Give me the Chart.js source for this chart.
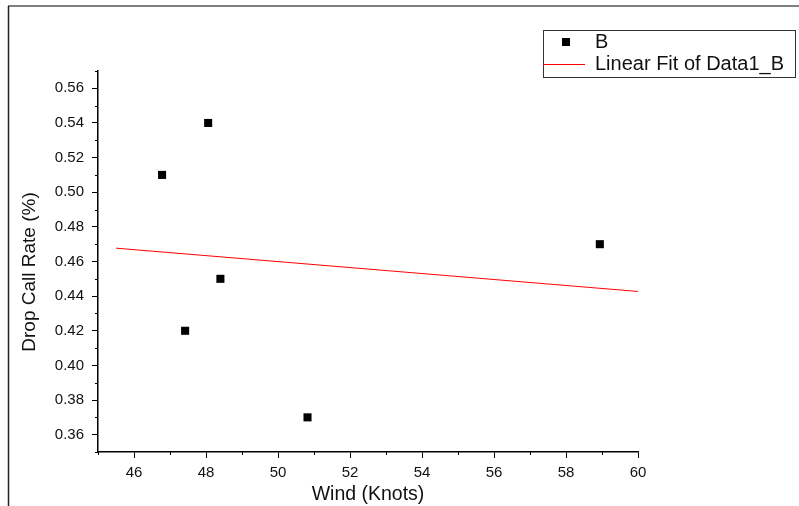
<!DOCTYPE html>
<html>
<head>
<meta charset="utf-8">
<script src="https://cdn.jsdelivr.net/npm/chart.js@4"></script>
<style>
  html, body { margin: 0; padding: 0; background: #fff; }
  #wrap { width: 799px; height: 506px; }
</style>
</head>
<body>
<div id="wrap"><canvas id="chart" width="799" height="506"></canvas></div>
<script>
// measured points (Wind vs drop call rate)
const windKnots = [46.78, 48.06, 47.42, 48.40, 50.82, 58.94];
const dropRate = [0.51, 0.54, 0.42, 0.45, 0.37, 0.47];

// linear fit line end points
const fitX = [45.5, 60];
const fitY = [0.4677, 0.4427];

const xTicks = [46, 48, 50, 52, 54, 56, 58, 60];
const yTicks = [0.36, 0.38, 0.40, 0.42, 0.44, 0.46, 0.48, 0.50, 0.52, 0.54, 0.56];
const xMinor = [45, 47, 49, 51, 53, 55, 57, 59];
const yMinor = [0.35, 0.37, 0.39, 0.41, 0.43, 0.45, 0.47, 0.49, 0.51, 0.53, 0.55, 0.57];

const FONT = "'Liberation Sans', Arial, sans-serif";

// outer frame, minor ticks, y title and the boxed legend
const decor = {
    id: 'decor',
    beforeDraw(chart) {
        const ctx = chart.ctx;
        ctx.save();
        ctx.strokeStyle = '#808080';
        ctx.lineWidth = 2;
        ctx.beginPath();
        ctx.moveTo(8, 6);
        ctx.lineTo(799, 6);
        ctx.stroke();
        ctx.strokeStyle = '#222';
        ctx.lineWidth = 1.5;
        ctx.beginPath();
        ctx.moveTo(8.5, 6);
        ctx.lineTo(8.5, 506);
        ctx.stroke();
        ctx.restore();
    },
    afterDraw(chart) {
        const ctx = chart.ctx;
        const xs = chart.scales.x;
        const ys = chart.scales.y;
        const area = chart.chartArea;

        ctx.save();
        ctx.strokeStyle = '#000';
        ctx.lineWidth = 1;
        ctx.beginPath();
        xMinor.forEach(v => {
            const px = Math.round(xs.getPixelForValue(v)) + 0.5;
            ctx.moveTo(px, area.bottom);
            ctx.lineTo(px, area.bottom + 3);
        });
        yMinor.forEach(v => {
            const py = Math.round(ys.getPixelForValue(v)) + 0.5;
            ctx.moveTo(area.left, py);
            ctx.lineTo(area.left - 3, py);
        });
        ctx.stroke();

        // y axis title
        ctx.fillStyle = '#111';
        ctx.font = '19px ' + FONT;
        ctx.textAlign = 'center';
        ctx.textBaseline = 'middle';
        ctx.translate(30, 272);
        ctx.rotate(-Math.PI / 2);
        ctx.fillText('Drop Call Rate (%)', 0, 0);
        ctx.restore();

        // legend box
        const pts = chart.data.datasets[0];
        const fit = chart.data.datasets[1];
        ctx.save();
        ctx.strokeStyle = '#333';
        ctx.lineWidth = 1;
        ctx.strokeRect(543.5, 30.5, 252, 47);
        ctx.fillStyle = pts.backgroundColor;
        ctx.fillRect(562, 38, 8, 8);
        ctx.strokeStyle = fit.borderColor;
        ctx.beginPath();
        ctx.moveTo(543, 64.5);
        ctx.lineTo(585, 64.5);
        ctx.stroke();
        ctx.fillStyle = '#111';
        ctx.font = '20px ' + FONT;
        ctx.textAlign = 'left';
        ctx.textBaseline = 'middle';
        ctx.fillText(pts.label, 595, 42);
        ctx.fillText(fit.label, 595, 64);
        ctx.restore();
    }
};

new Chart(document.getElementById('chart'), {
    type: 'scatter',
    data: {
        datasets: [{
            label: 'B',
            data: windKnots.map((x, i) => ({ x: x, y: dropRate[i] })),
            backgroundColor: '#000',
            borderColor: '#000',
            pointStyle: 'rect',
            pointRadius: 5.7,
            pointBorderWidth: 0
        }, {
            label: 'Linear Fit of Data1_B',
            type: 'line',
            data: fitX.map((x, i) => ({ x: x, y: fitY[i] })),
            borderColor: '#ff0000',
            borderWidth: 1,
            pointRadius: 0,
            fill: false
        }]
    },
    options: {
        responsive: false,
        animation: false,
        layout: { padding: { left: 10, top: 71, right: 161, bottom: 0 } },
        plugins: {
            legend: { display: false },
            tooltip: { enabled: false }
        },
        scales: {
            x: {
                type: 'linear',
                min: 45,
                max: 60,
                afterBuildTicks: s => { s.ticks = xTicks.map(v => ({ value: v })); },
                afterFit: s => { s.height = 54; },
                grid: { drawOnChartArea: false, tickLength: 6, color: '#000' },
                border: { display: true, color: '#000', width: 1.5 },
                ticks: {
                    padding: 6,
                    color: '#111',
                    font: { family: FONT, size: 15 },
                    maxRotation: 0,
                    autoSkip: false
                },
                title: {
                    display: true,
                    text: 'Wind (Knots)',
                    color: '#111',
                    font: { family: FONT, size: 19.5 },
                    padding: { top: 0, bottom: 0 }
                }
            },
            y: {
                type: 'linear',
                min: 0.35,
                max: 0.57,
                afterBuildTicks: s => { s.ticks = yTicks.map(v => ({ value: v })); },
                afterFit: s => { s.width = 88; },
                grid: { drawOnChartArea: false, tickLength: 6, color: '#000' },
                border: { display: true, color: '#000', width: 1.5 },
                ticks: {
                    padding: 8,
                    color: '#111',
                    font: { family: FONT, size: 15 },
                    autoSkip: false,
                    callback: v => v.toFixed(2)
                },
                title: { display: false }
            }
        }
    },
    plugins: [decor]
});
</script>
</body>
</html>
